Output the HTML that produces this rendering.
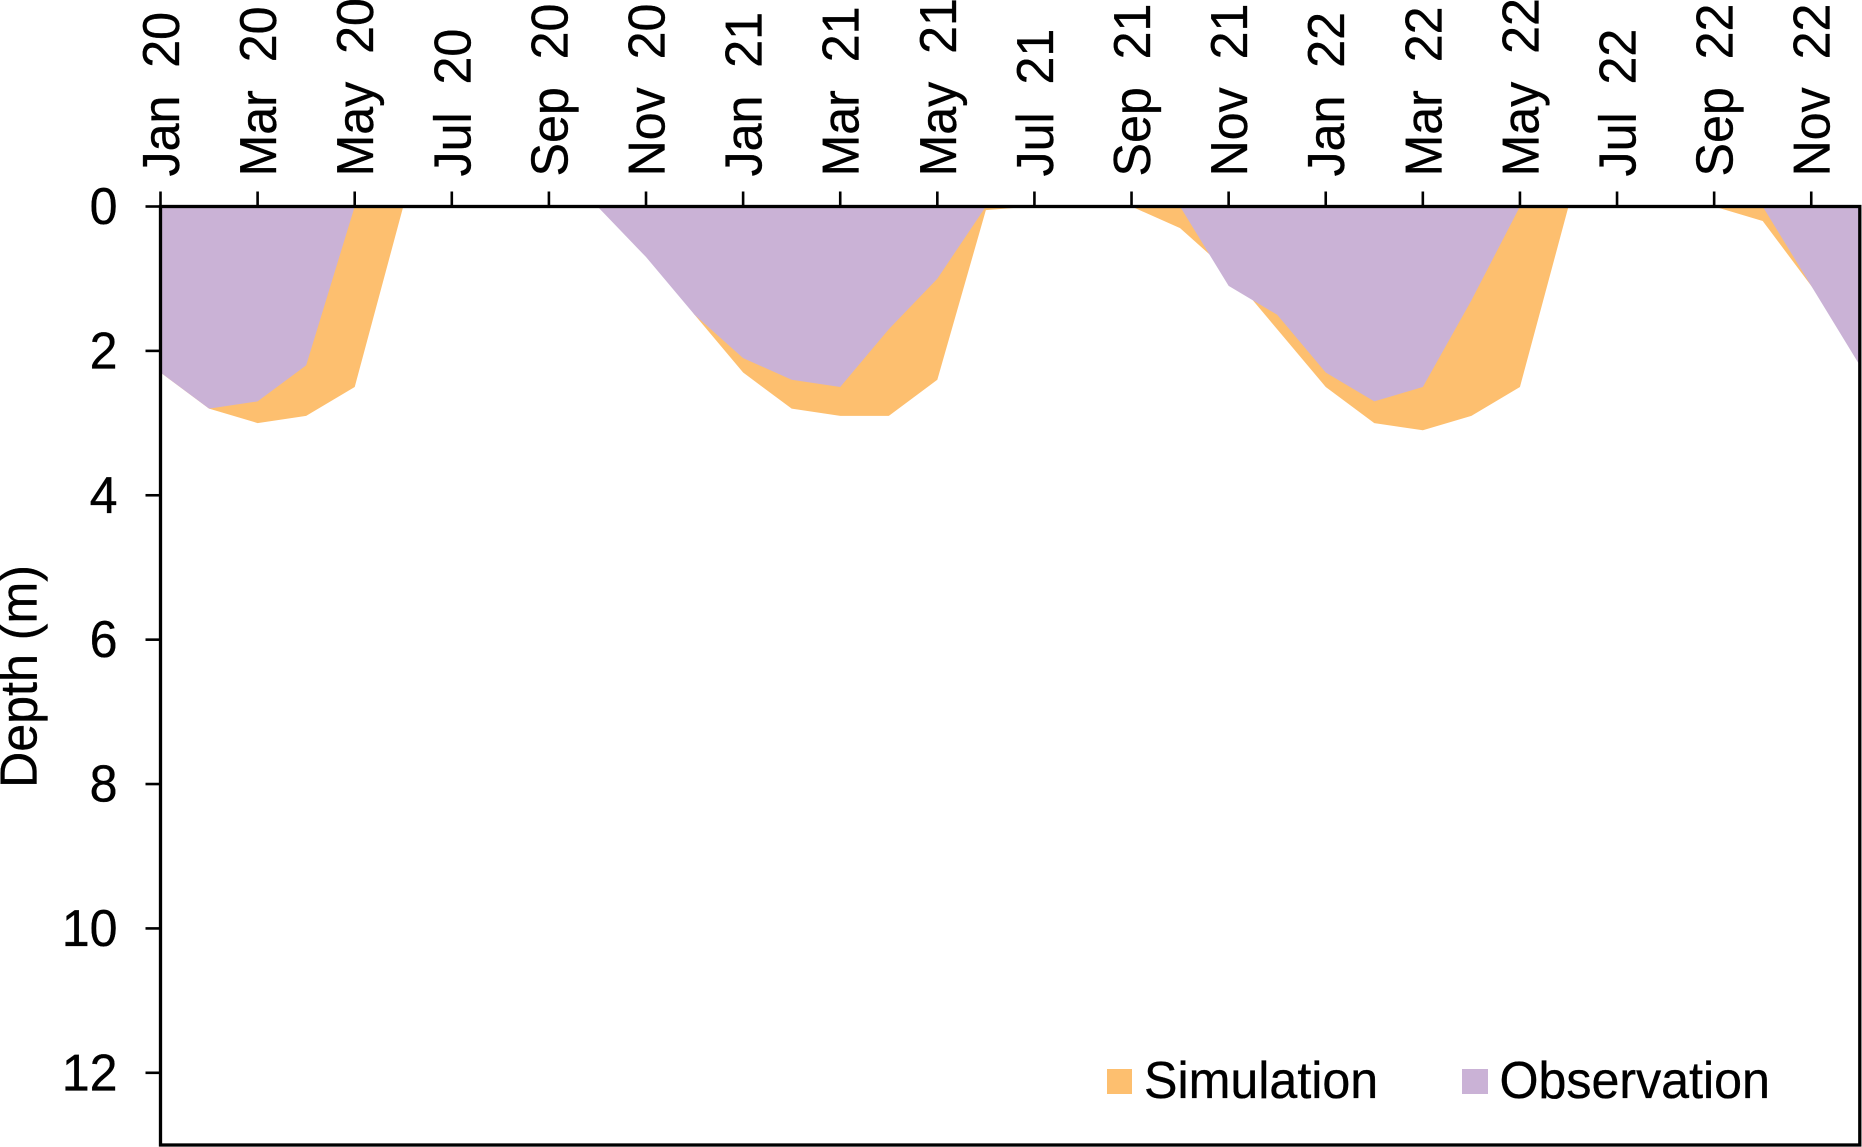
<!DOCTYPE html>
<html lang="en">
<head>
<meta charset="utf-8">
<title>Depth: simulation vs observation</title>
<style>
  html, body { margin: 0; padding: 0; background: #fff; width: 1862px; height: 1147px; overflow: hidden; }
  svg { display: block; }
  text { font-family: "Liberation Sans", Arial, sans-serif; font-size: 52px; fill: #000; stroke: #000; stroke-width: 0.35px; white-space: pre; }
</style>
</head>
<body>
<svg id="chart" xmlns="http://www.w3.org/2000/svg" width="1862" height="1147" viewBox="0 0 1862 1147"></svg>
<script>
const categories = [
  "Jan  20","Feb  20","Mar  20","Apr  20","May  20","Jun  20","Jul  20","Aug  20","Sep  20","Oct  20","Nov  20","Dec  20",
  "Jan  21","Feb  21","Mar  21","Apr  21","May  21","Jun  21","Jul  21","Aug  21","Sep  21","Oct  21","Nov  21","Dec  21",
  "Jan  22","Feb  22","Mar  22","Apr  22","May  22","Jun  22","Jul  22","Aug  22","Sep  22","Oct  22","Nov  22","Dec  22"
];
const simulation = [
  2.3,2.8,3.0,2.9,2.5,0,0,0,0,0,0.6,1.5,
  2.3,2.8,2.9,2.9,2.4,0.05,0,0,0,0.3,0.9,1.7,
  2.5,3.0,3.1,2.9,2.5,0,0,0,0,0.2,1.1,2.0
];
const observation = [
  2.3,2.8,2.7,2.2,0,0,0,0,0,0,0.7,1.5,
  2.1,2.4,2.5,1.7,1.0,0,0,0,0,0,1.1,1.5,
  2.3,2.7,2.5,1.3,0,0,0,0,0,0,1.1,2.2
];
const yTicks = [0,2,4,6,8,10,12];
const xTickStep = 2;
const yMax = 13;
const yTitle = "Depth (m)";
const legendNames = ["Simulation","Observation"];

const NS = "http://www.w3.org/2000/svg";
const svg = document.getElementById("chart");
const plot = { left: 160.5, top: 206.5, right: 1859.8, bottom: 1145 };
const colors = { sim: "#FDBF6F", obs: "#CAB2D6" };
const narrow = " scale(0.965,1)";

function xScale(i) {
  return plot.left + i * (plot.right - plot.left) / (categories.length - 1);
}
function yScale(v) {
  return plot.top + v * (plot.bottom - plot.top) / yMax;
}
function make(tag, attrs, parent) {
  const el = document.createElementNS(NS, tag);
  for (const k in attrs) el.setAttribute(k, attrs[k]);
  (parent || svg).appendChild(el);
  return el;
}
function areaPath(values) {
  let d = "M" + xScale(0) + "," + yScale(0);
  values.forEach(function (v, i) {
    d += "L" + xScale(i).toFixed(2) + "," + yScale(v).toFixed(2);
  });
  d += "L" + xScale(values.length - 1) + "," + yScale(0) + "Z";
  return d;
}

/* Series areas */
const simArea = make("path", { d: areaPath(simulation), fill: colors.sim });


const obsArea = make("path", { d: areaPath(observation), fill: colors.obs });



/* X ticks and labels (top) */
categories.forEach(function (label, i) {
  if (i % xTickStep !== 0) return;
  const x = xScale(i);
  const tick = make("line", { x1: x, x2: x, y1: 191.5, y2: plot.top, stroke: "#000", "stroke-width": 2.6 });
  
  
  const t = make("text", { transform: "translate(" + (x + 18.5) + ",176.5) rotate(-90)" + narrow });
  t.textContent = label;
  
  
});

/* Y ticks and labels */
yTicks.forEach(function (v) {
  const y = yScale(v);
  const tick = make("line", { x1: 145.5, x2: plot.left, y1: y, y2: y, stroke: "#000", "stroke-width": 2.6 });
  
  
  const t = make("text", { transform: "translate(117.5," + (y + 17.5) + ")" + narrow, "text-anchor": "end" });
  t.textContent = String(v);
  
  
});

/* Plot frame */
const frame = make("rect", {
  x: plot.left, y: plot.top,
  width: plot.right - plot.left, height: plot.bottom - plot.top,
  fill: "none", stroke: "#000", "stroke-width": 3.3
});



/* Y axis title */
const title = make("text", { transform: "translate(36.5,788) rotate(-90)" + narrow });
title.textContent = yTitle;



/* Legend */
const simSwatch = make("rect", { x: 1107, y: 1069, width: 25, height: 25, fill: colors.sim });


const simLabel = make("text", { transform: "translate(1144,1098)" + narrow });
simLabel.textContent = legendNames[0];


const obsSwatch = make("rect", { x: 1462, y: 1069, width: 26, height: 25, fill: colors.obs });


const obsLabel = make("text", { transform: "translate(1499.5,1098)" + narrow });
obsLabel.textContent = legendNames[1];


</script>
</body>
</html>
